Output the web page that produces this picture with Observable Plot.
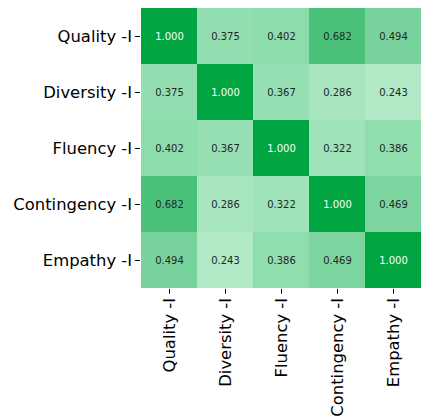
<!DOCTYPE html>
<html>
<head>
<meta charset="utf-8">
<script src="https://cdn.jsdelivr.net/npm/d3@7"></script>
<script src="https://cdn.jsdelivr.net/npm/@observablehq/plot@0.6"></script>
<style>
  html, body { margin: 0; padding: 0; background: #fff; }
  #chart svg { display: block; }
</style>
</head>
<body>
<div id="chart"></div>
<script>
const labels = ["Quality -I", "Diversity -I", "Fluency -I", "Contingency -I", "Empathy -I"];
const rowQuality     = [1.000, 0.375, 0.402, 0.682, 0.494];
const rowDiversity   = [0.375, 1.000, 0.367, 0.286, 0.243];
const rowFluency     = [0.402, 0.367, 1.000, 0.322, 0.386];
const rowContingency = [0.682, 0.286, 0.322, 1.000, 0.469];
const rowEmpathy     = [0.494, 0.243, 0.386, 0.469, 1.000];
const matrix = [rowQuality, rowDiversity, rowFluency, rowContingency, rowEmpathy];

const cells = [];
matrix.forEach((row, i) => row.forEach((v, j) => cells.push({row: labels[i], col: labels[j], value: v})));

const vmin = d3.min(cells, d => d.value);
const vmax = d3.max(cells, d => d.value);

const chart = Plot.plot({
  width: 422,
  height: 419,
  marginLeft: 140,
  marginRight: 0,
  marginTop: 7,
  marginBottom: 130,
  style: {fontFamily: "DejaVu Sans", background: "#fff"},
  x: {domain: labels, padding: 0},
  y: {domain: labels, padding: 0},
  color: {type: "linear", domain: [vmin, vmax], range: ["#b2eac8", "#00a541"]},
  marks: [
    Plot.cell(cells, {x: "col", y: "row", fill: "value", inset: 0}),
    Plot.text(cells, {
      x: "col", y: "row",
      text: d => d.value.toFixed(3),
      fill: d => d.value > 0.8 ? "#ffffff" : "#262626",
      fontSize: 10
    }),
    Plot.axisY({
      label: null, tickSize: 4.9, tickPadding: 3.5, fontSize: 16.4,
      stroke: "#000", fill: "#000"
    }),
    Plot.axisX({
      label: null, tickSize: 4.9, tickPadding: 3.5, fontSize: 16.4,
      tickRotate: -90, stroke: "#000", fill: "#000"
    })
  ]
});
document.getElementById("chart").appendChild(chart);
</script>
</body>
</html>
